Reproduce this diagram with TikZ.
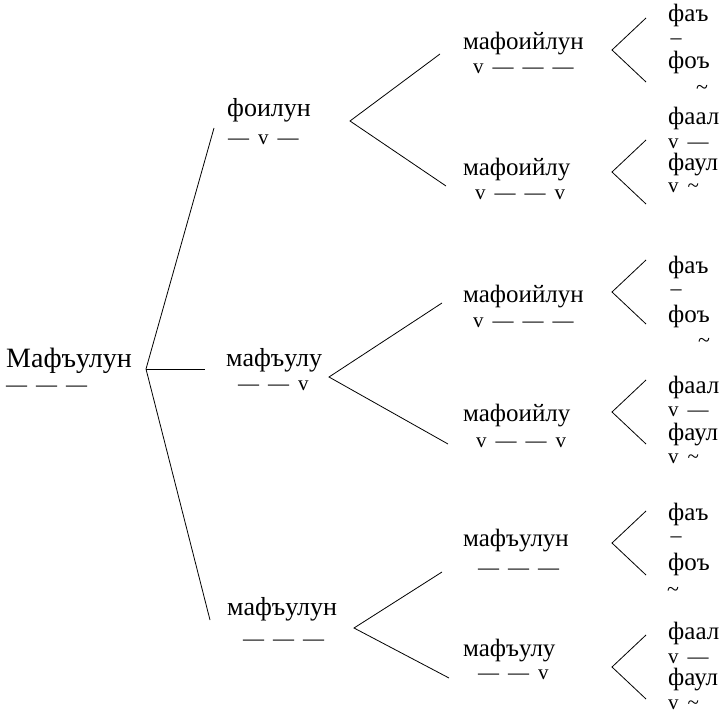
\documentclass[tikz,border=0pt]{standalone}
\usepackage{fontspec}
\setmainfont{Liberation Serif}
\begin{document}
\begin{tikzpicture}[x=1pt,y=-1pt,
  word/.style={inner sep=0pt,anchor=base west,font=\fontsize{25}{28}\selectfont},
  bigword/.style={word,font=\fontsize{28}{30}\selectfont},
  midword/.style={word,font=\fontsize{26}{28}\selectfont},
  meter/.style={inner sep=0pt,anchor=base west,font=\fontsize{21}{24}\selectfont},
  sym/.style={inner sep=0pt,anchor=center,font=\fontsize{22}{24}\selectfont},
  link/.style={line width=0.8pt}]
\useasboundingbox (0,0) rectangle (728,711);
\newcommand{\g}{\hspace{9pt}}
% root
\node[bigword] (root) at (6,367) {Мафъулун};
\node[meter] (rootm) at (6,391) {—\g—\g—};
% level 2
\node[midword] (a) at (227,117) {фоилун};
\node[meter] (am) at (228,145) {—\g v\g —};
\node[midword] (b) at (226,366) {мафъулу};
\node[meter] (bm) at (238,390) {—\g—\g v};
\node[midword] (c) at (227,615) {мафъулун};
\node[meter] (cm) at (243,645) {—\g—\g—};
% level 3
\node[word] (a1) at (463,50) {мафоийлун};
\node[meter] (a1m) at (473,74) {v\g —\g—\g—};
\node[word] (a2) at (463,176) {мафоийлу};
\node[meter] (a2m) at (475,200) {v\g —\g—\g v};
\node[word] (b1) at (463,302) {мафоийлун};
\node[meter] (b1m) at (473,327) {v\g —\g—\g—};
\node[word] (b2) at (463,421) {мафоийлу};
\node[meter] (b2m) at (476,447) {v\g —\g—\g v};
\node[word] (c1) at (463,546) {мафъулун};
\node[meter] (c1m) at (478,574) {—\g—\g—};
\node[word] (c2) at (463,656) {мафъулу};
\node[meter] (c2m) at (478,679) {—\g—\g v};
% level 4
\node[word] (g1a) at (668,22) {фаъ};
\node[sym] (g1b) at (676,42) {–};
\node[word] (g1c) at (668,69) {фоъ};
\node[sym] (g1d) at (702,90) {\char"007E};
\node[word] (g2a) at (668,125) {фаал};
\node[meter] (g2b) at (668,149) {v\g —};
\node[word] (g2c) at (668,171) {фаул};
\node[meter] (g2d) at (668,193) {v\g \char"007E};
\node[word] (g3a) at (668,273) {фаъ};
\node[sym] (g3b) at (676,293) {–};
\node[word] (g3c) at (668,322) {фоъ};
\node[sym] (g3d) at (704,343) {\char"007E};
\node[word] (g4a) at (668,393) {фаал};
\node[meter] (g4b) at (668,416) {v\g —};
\node[word] (g4c) at (668,440) {фаул};
\node[meter] (g4d) at (668,463) {v\g \char"007E};
\node[word] (g5a) at (668,520) {фаъ};
\node[sym] (g5b) at (676,540) {–};
\node[word] (g5c) at (668,570) {фоъ};
\node[sym] (g5d) at (673,592) {\char"007E};
\node[word] (g6a) at (668,639) {фаал};
\node[meter] (g6b) at (668,663) {v\g —};
\node[word] (g6c) at (668,685) {фаул};
\node[meter] (g6d) at (668,709) {v\g \char"007E};
% connector points
\coordinate (rv) at (146,369);
\coordinate (r1) at (214,128);
\coordinate (r2) at (205,369);
\coordinate (r3) at (210,620);
\coordinate (av) at (350,121);
\coordinate (a1e) at (440,54);
\coordinate (a2e) at (446,186);
\coordinate (bv) at (329,377);
\coordinate (b1e) at (442,303);
\coordinate (b2e) at (448,444);
\coordinate (cv) at (354,628);
\coordinate (c1e) at (442,572);
\coordinate (c2e) at (449,678);
\draw[link] (r1) -- (rv) -- (r3);
\draw[link] (rv) -- (r2);
\draw[link] (a1e) -- (av) -- (a2e);
\draw[link] (b1e) -- (bv) -- (b2e);
\draw[link] (c1e) -- (cv) -- (c2e);
\foreach \v/\y in {1/50,2/172,3/292,4/412,5/543,6/667}{
  \coordinate (f\v) at (612,\y);
  \coordinate (f\v u) at (646,\y-32);
  \coordinate (f\v l) at (646,\y+32);
  \draw[link] (f\v u) -- (f\v) -- (f\v l);
}
\end{tikzpicture}
\end{document}
